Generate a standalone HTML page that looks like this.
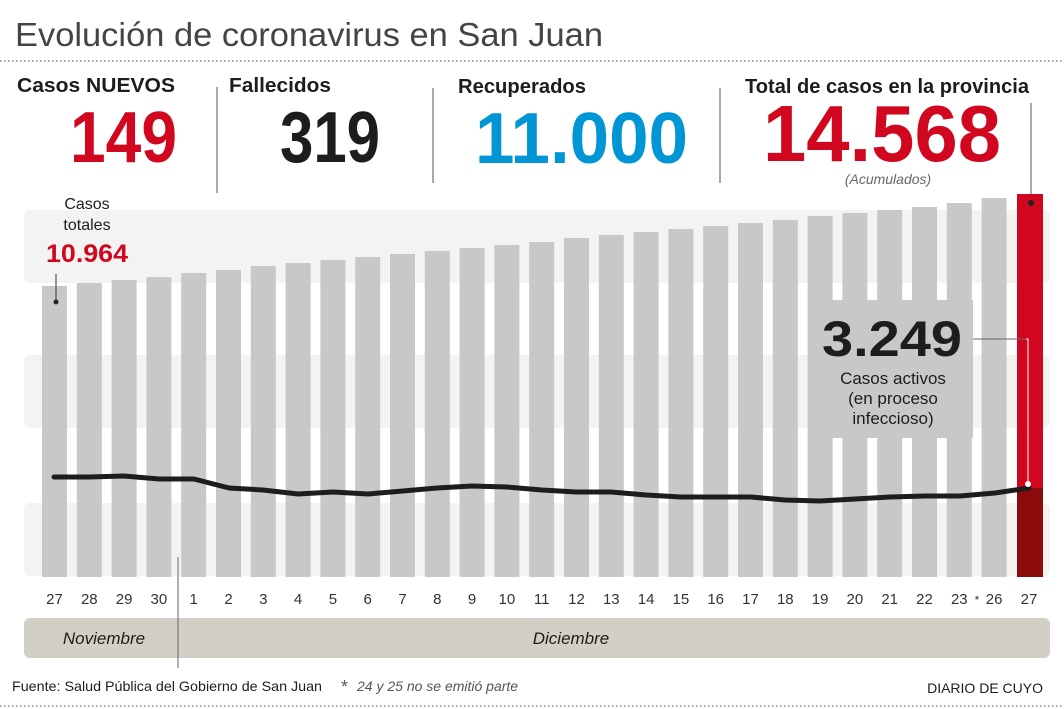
<!DOCTYPE html>
<html><head><meta charset="utf-8"><style>
body{margin:0;background:#fff;}
svg{display:block;font-family:"Liberation Sans",sans-serif;}
</style></head><body>
<svg width="1064" height="709" viewBox="0 0 1064 709" xmlns="http://www.w3.org/2000/svg">
<text x="15" y="46" font-size="33" fill="#444" textLength="588" lengthAdjust="spacingAndGlyphs">Evolución de coronavirus en San Juan</text>
<line x1="0" y1="61" x2="1064" y2="61" stroke="#888" stroke-width="1.5" stroke-dasharray="1.5,2.5"/>
<g font-weight="bold" font-size="20" fill="#1d1d1b">
<text x="17" y="92" textLength="158" lengthAdjust="spacingAndGlyphs">Casos NUEVOS</text>
<text x="229" y="92" textLength="102" lengthAdjust="spacingAndGlyphs">Fallecidos</text>
<text x="458" y="93" textLength="128" lengthAdjust="spacingAndGlyphs">Recuperados</text>
<text x="745" y="93" textLength="284" lengthAdjust="spacingAndGlyphs">Total de casos en la provincia</text>
</g>
<g font-weight="bold">
<text x="70" y="162" font-size="72" fill="#d0071e" textLength="107" lengthAdjust="spacingAndGlyphs">149</text>
<text x="280" y="162" font-size="72" fill="#1d1d1b" textLength="100" lengthAdjust="spacingAndGlyphs">319</text>
<text x="475" y="163" font-size="72" fill="#0096d6" textLength="213" lengthAdjust="spacingAndGlyphs">11.000</text>
<text x="763" y="161" font-size="80" fill="#d0071e" textLength="238" lengthAdjust="spacingAndGlyphs">14.568</text>
</g>
<text x="888" y="184" font-size="14" font-style="italic" fill="#666" text-anchor="middle">(Acumulados)</text>
<g stroke="#555" stroke-width="1">
<line x1="217" y1="87" x2="217" y2="193"/>
<line x1="433" y1="88" x2="433" y2="183"/>
<line x1="720" y1="88" x2="720" y2="183"/>
<line x1="1031" y1="103" x2="1031" y2="200"/>
</g>
<g fill="#f3f3f3">
<rect x="24" y="210" width="1026" height="73" rx="6"/>
<rect x="24" y="355" width="1026" height="73" rx="6"/>
<rect x="24" y="503" width="1026" height="73" rx="6"/>
</g>
<g fill="#c8c8c8">
<rect x="42" y="286" width="25" height="291"/>
<rect x="76.8" y="283" width="25" height="294"/>
<rect x="111.6" y="280" width="25" height="297"/>
<rect x="146.4" y="277" width="25" height="300"/>
<rect x="181.2" y="273" width="25" height="304"/>
<rect x="216" y="270" width="25" height="307"/>
<rect x="250.8" y="266" width="25" height="311"/>
<rect x="285.6" y="263" width="25" height="314"/>
<rect x="320.4" y="260" width="25" height="317"/>
<rect x="355.2" y="257" width="25" height="320"/>
<rect x="390" y="254" width="25" height="323"/>
<rect x="424.8" y="251" width="25" height="326"/>
<rect x="459.6" y="248" width="25" height="329"/>
<rect x="494.4" y="245" width="25" height="332"/>
<rect x="529.2" y="242" width="25" height="335"/>
<rect x="564" y="238" width="25" height="339"/>
<rect x="598.8" y="235" width="25" height="342"/>
<rect x="633.6" y="232" width="25" height="345"/>
<rect x="668.4" y="229" width="25" height="348"/>
<rect x="703.2" y="226" width="25" height="351"/>
<rect x="738" y="223" width="25" height="354"/>
<rect x="772.8" y="220" width="25" height="357"/>
<rect x="807.6" y="216" width="25" height="361"/>
<rect x="842.4" y="213" width="25" height="364"/>
<rect x="877.2" y="210" width="25" height="367"/>
<rect x="912" y="207" width="25" height="370"/>
<rect x="946.8" y="203" width="25" height="374"/>
<rect x="981.6" y="198" width="25" height="379"/>
<rect x="810" y="300" width="163" height="138"/>
</g>
<rect x="1017" y="194" width="26" height="294" fill="#d0071e"/>
<rect x="1017" y="488" width="26" height="89" fill="#8b0b0b"/>
<circle cx="1031" cy="203" r="3" fill="#222"/>
<text x="87" y="209" font-size="16" fill="#1d1d1b" text-anchor="middle">Casos</text>
<text x="87" y="230" font-size="16" fill="#1d1d1b" text-anchor="middle">totales</text>
<text x="87" y="262" font-size="25" font-weight="bold" fill="#d0071e" text-anchor="middle" textLength="82" lengthAdjust="spacingAndGlyphs">10.964</text>
<line x1="56" y1="274" x2="56" y2="302" stroke="#333" stroke-width="1"/>
<circle cx="56" cy="302" r="2.5" fill="#222"/>
<polyline fill="none" stroke="#1d1d1b" stroke-width="5" stroke-linejoin="round" stroke-linecap="round" points="54,477 89,477 124,476 159,479 194,479 229,488 263,490 298,494 333,492 368,494 403,491 437,488 472,486 507,487 542,490 576,492 611,492 646,495 681,497 716,497 751,497 785,500 820,501 855,499 890,497 925,496 960,496 995,493 1029,488"/>
<polyline fill="none" stroke="#fff" stroke-width="1" points="973,339 1028,339 1028,484"/>
<polyline fill="none" stroke="#666" stroke-width="1" points="973,339 1026,339"/>
<circle cx="1028" cy="484" r="3" fill="#fff"/>
<text x="892" y="356" font-size="50" font-weight="bold" fill="#1d1d1b" text-anchor="middle" textLength="140" lengthAdjust="spacingAndGlyphs">3.249</text>
<g font-size="17" fill="#1d1d1b" text-anchor="middle">
<text x="893" y="384">Casos activos</text>
<text x="893" y="404">(en proceso</text>
<text x="893" y="424">infeccioso)</text>
</g>
<g font-size="15" fill="#333" text-anchor="middle">
<text x="54.5" y="604">27</text><text x="89.3" y="604">28</text><text x="124.1" y="604">29</text><text x="158.9" y="604">30</text>
<text x="193.7" y="604">1</text><text x="228.5" y="604">2</text><text x="263.3" y="604">3</text><text x="298.1" y="604">4</text>
<text x="332.9" y="604">5</text><text x="367.7" y="604">6</text><text x="402.5" y="604">7</text><text x="437.3" y="604">8</text>
<text x="472.1" y="604">9</text><text x="506.9" y="604">10</text><text x="541.7" y="604">11</text><text x="576.5" y="604">12</text>
<text x="611.3" y="604">13</text><text x="646.1" y="604">14</text><text x="680.9" y="604">15</text><text x="715.7" y="604">16</text>
<text x="750.5" y="604">17</text><text x="785.3" y="604">18</text><text x="820.1" y="604">19</text><text x="854.9" y="604">20</text>
<text x="889.7" y="604">21</text><text x="924.5" y="604">22</text><text x="959.3" y="604">23</text><text x="977" y="604" font-size="12">*</text><text x="994.1" y="604">26</text>
<text x="1029" y="604">27</text>
</g>
<rect x="24" y="618" width="1026" height="40" rx="6" fill="#d2cfc6"/>
<line x1="178" y1="557" x2="178" y2="668" stroke="#666" stroke-width="1"/>
<text x="104" y="644" font-size="17" font-style="italic" fill="#1d1d1b" text-anchor="middle">Noviembre</text>
<text x="571" y="644" font-size="17" font-style="italic" fill="#1d1d1b" text-anchor="middle">Diciembre</text>
<text x="12" y="691" font-size="14" fill="#1d1d1b" textLength="310" lengthAdjust="spacingAndGlyphs">Fuente: Salud Pública del Gobierno de San Juan</text>
<text x="341" y="693" font-size="18" fill="#555">*</text>
<text x="357" y="691" font-size="14" font-style="italic" fill="#555">24 y 25 no se emitió parte</text>
<text x="1043" y="693" font-size="14" fill="#1d1d1b" text-anchor="end">DIARIO DE CUYO</text>
<line x1="0" y1="706" x2="1064" y2="706" stroke="#888" stroke-width="1.5" stroke-dasharray="1.5,2.5"/>
</svg>
</body></html>
